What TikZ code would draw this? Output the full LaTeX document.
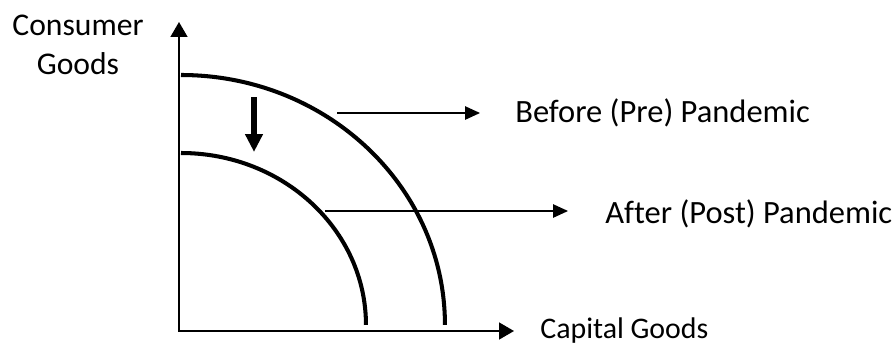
\documentclass[tikz,border=0pt]{standalone}
\usepackage{fontspec}
\setmainfont{Carlito}[Ligatures=NoCommon]
\usepackage{tikz}
\usetikzlibrary{arrows.meta, calc, positioning}

\begin{document}
\begin{tikzpicture}[x=0.02cm, y=-0.02cm,
  lbl/.style={inner sep=0pt, font=\fontsize{18.5}{22}\selectfont},
  axis/.style={line width=1pt},
  ppf/.style={line width=2.3pt},
  conn/.style={line width=0.8pt, -{Triangle[length=8.5pt, width=7.6pt]}}]
\useasboundingbox (0,0) rectangle (892,345);
\coordinate (O) at (179,331);
\coordinate (ytop) at (179,22);
\node[lbl, align=center, anchor=north, font=\fontsize{18}{22}\selectfont] (cg) at (78,15) {Consumer\\Goods};
\node[lbl, anchor=base west, font=\fontsize{17}{20}\selectfont] (cap) at (540,338) {Capital Goods};
\draw[axis, {Triangle[length=8.5pt, width=9.6pt]}-{Triangle[length=8.5pt, width=9.6pt]}, shorten >=0.52cm] (ytop) -- (O) -- (O -| cap.west);
\draw[ppf] (181,75) arc[start angle=90, end angle=0, x radius=5.28cm, y radius=5cm];
\draw[ppf] (181,153) arc[start angle=90, end angle=0, x radius=3.7cm, y radius=3.44cm];
\draw[line width=3.4pt, -{Triangle[length=10.2pt, width=9.6pt]}] (254,97) -- (254,152);
\node[lbl, anchor=base west] (pre) at (515,122) {Before (Pre) Pandemic};
\node[lbl, anchor=base west] (post) at (605,223) {After (Post) Pandemic};
\coordinate (pre0) at (337,113);
\coordinate (post0) at (325,211);
\draw[conn, shorten >=0.7cm] (pre0) -- (pre0 -| pre.west);
\draw[conn, shorten >=0.74cm] (post0) -- (post0 -| post.west);
\end{tikzpicture}
\end{document}
